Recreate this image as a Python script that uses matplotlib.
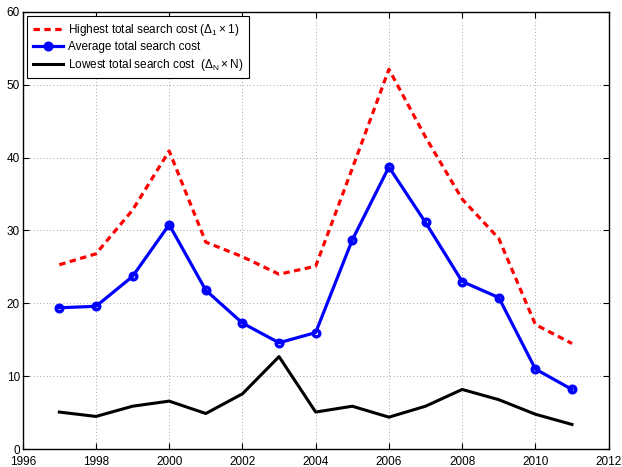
import numpy as np
import matplotlib.pyplot as plt

plt.rcParams.update({
    'font.family': ['Liberation Sans', 'DejaVu Sans'],
    'font.size': 8,
    'mathtext.fontset': 'custom',
    'mathtext.rm': 'Liberation Sans',
    'mathtext.it': 'Liberation Sans',
    'xtick.direction': 'in',
    'ytick.direction': 'in',
})

years = np.arange(1997, 2012)
highest = [25.3, 26.8, 32.8, 40.9, 28.4, 26.4, 24.0, 25.1, 38.5, 52.1, 42.8, 34.3, 28.9, 17.1, 14.5]
average = [19.4, 19.6, 23.7, 30.8, 21.8, 17.3, 14.6, 16.0, 28.7, 38.7, 31.1, 23.0, 20.8, 11.0, 8.2]
lowest = [5.1, 4.5, 5.9, 6.6, 4.9, 7.6, 12.7, 5.1, 5.9, 4.4, 5.9, 8.2, 6.8, 4.8, 3.4]

fig = plt.figure(figsize=(6.22, 4.67), dpi=100)
ax = fig.add_axes([0.0365, 0.038, 0.942, 0.937])

ax.plot(years, highest, color='#ff0000', linewidth=2.3, dashes=(2, 1.4),
        label=r'Highest total search cost ($\Delta_1\times 1$)')
ax.plot(years, average, color='#0000ff', linewidth=2.3, marker='o',
        markersize=4.8, markeredgewidth=2.4, markerfacecolor='none',
        label='Average total search cost')
ax.plot(years, lowest, color='black', linewidth=2.2,
        label=r'Lowest total search cost  ($\Delta_N\times$N)')

ax.set_xlim(1996, 2012)
ax.set_ylim(0, 60)
ax.set_xticks(np.arange(1996, 2013, 2))
ax.set_yticks(np.arange(0, 61, 10))
ax.tick_params(top=True, right=True, length=4, pad=2, labelsize=8.5)
ax.tick_params(axis='x', pad=4.5)
ax.grid(True, linestyle=(0, (1, 3)), color='#888888', linewidth=0.6)
for s in ax.spines.values():
    s.set_linewidth(1.0)

leg = ax.legend(loc='upper left', fontsize=8.5, handlelength=2.6,
                handletextpad=0.4, borderpad=0.45, labelspacing=0.3,
                fancybox=False, framealpha=1, edgecolor='black',
                borderaxespad=0.4)
leg.get_frame().set_linewidth(0.8)

fig.savefig('out.png', dpi=100)
